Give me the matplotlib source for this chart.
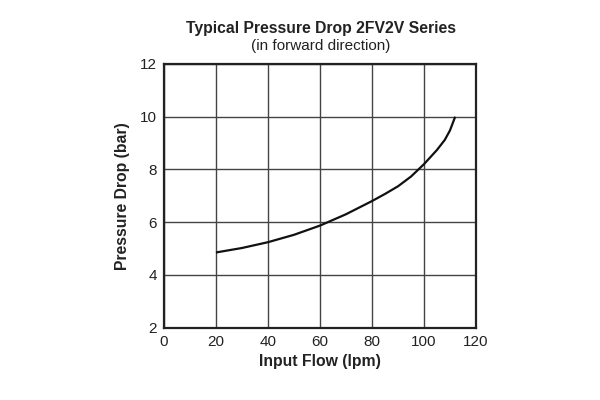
import matplotlib
matplotlib.use("Agg")
import matplotlib.pyplot as plt

# values
flow_lpm = [20, 30, 40, 50, 60, 70, 80, 85, 90, 95, 100, 105, 108, 110, 112]
pressure_bar = [4.85, 5.02, 5.24, 5.52, 5.87, 6.3, 6.8, 7.07, 7.36, 7.73, 8.2, 8.74, 9.12, 9.48, 10.0]

x_ticks = [0, 20, 40, 60, 80, 100, 120]
y_ticks = [2, 4, 6, 8, 10, 12]

plt.rcParams["font.family"] = ["Liberation Sans", "DejaVu Sans"]

fig = plt.figure(figsize=(6, 4), dpi=100)
ax = fig.add_axes([0.2733, 0.181, 0.52, 0.659])

ax.plot(flow_lpm, pressure_bar, color="#111111", linewidth=1.6,
        solid_capstyle="butt", solid_joinstyle="round")

ax.set_xlim(0, 120)
ax.set_ylim(2, 12)
ax.set_xticks(x_ticks)
ax.set_yticks(y_ticks)
ax.grid(True, color="#444444", linewidth=1.0)
ax.set_axisbelow(True)
ax.tick_params(length=0, labelsize=11, colors="#222222", pad=5)

for s in ax.spines.values():
    s.set_linewidth(1.6)
    s.set_color("#222222")

ax.set_xlabel("Input Flow (lpm)", fontsize=11.3, fontweight="bold", color="#222222", labelpad=4)
ax.set_ylabel("Pressure Drop (bar)", fontsize=11.3, fontweight="bold", color="#222222", labelpad=7)

fig.text(0.535, 0.93, "Typical Pressure Drop 2FV2V Series", ha="center", va="center",
         fontsize=11.3, fontweight="bold", color="#222222")
fig.text(0.535, 0.884, "(in forward direction)", ha="center", va="center",
         fontsize=11, color="#222222")

fig.savefig("out.png", dpi=100)
